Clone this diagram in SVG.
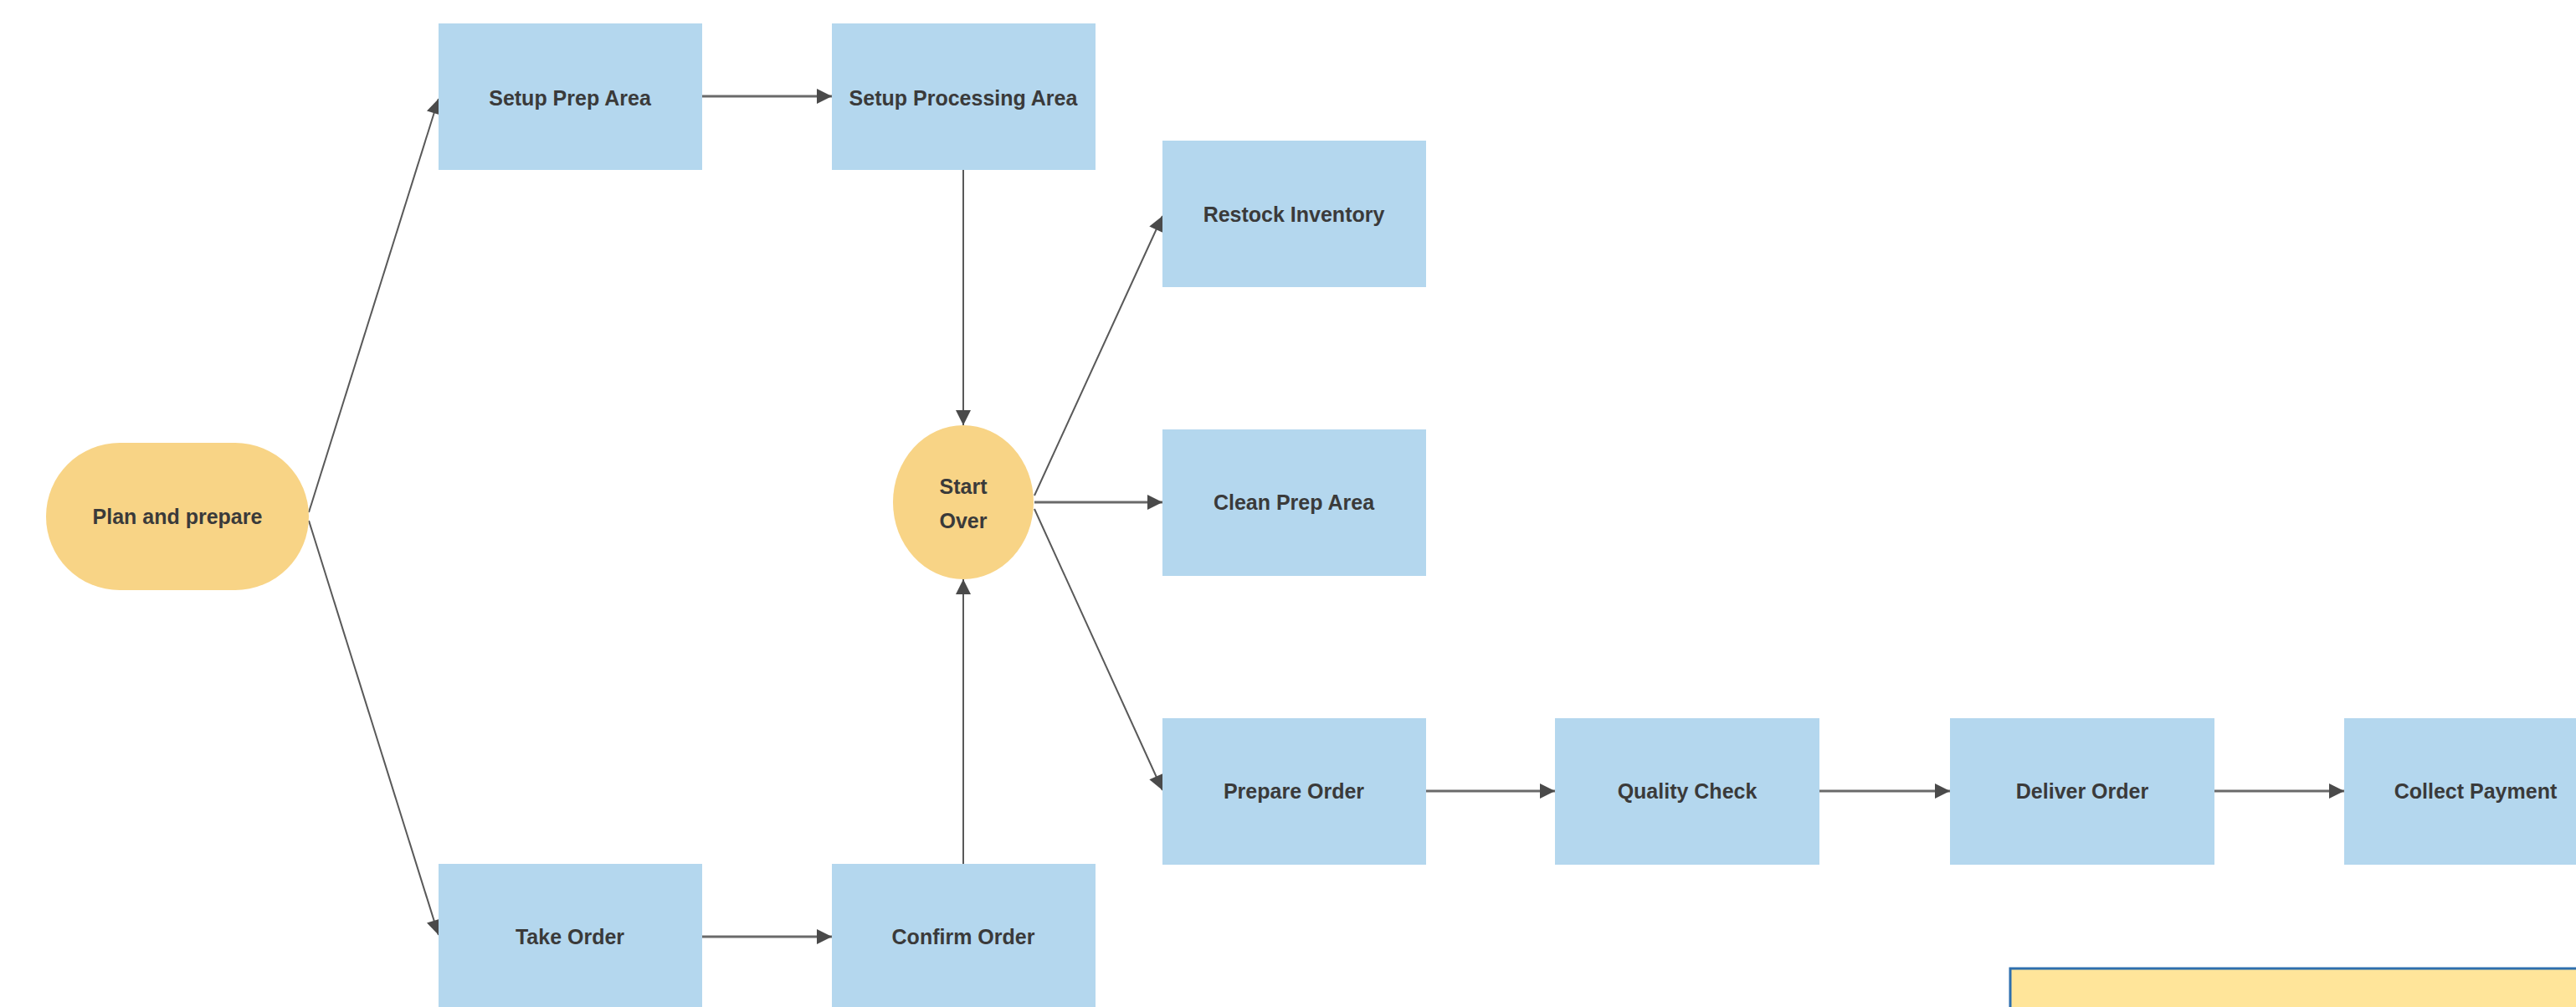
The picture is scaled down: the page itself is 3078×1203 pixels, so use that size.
<svg xmlns="http://www.w3.org/2000/svg" width="3078" height="1203" viewBox="0 0 3078 1203">
<style>
.box{fill:#b4d7ee}
.term{fill:#f8d486}
.lbl{font-family:"Liberation Sans",Arial,sans-serif;font-size:25px;font-weight:bold;fill:#3a3a3a;text-anchor:middle}
.c{stroke:#595959;stroke-width:2;fill:none;marker-end:url(#ah)}
.h{stroke:#6a6a6a;stroke-width:3;fill:none;marker-end:url(#ah)}
</style>
<defs>
<marker id="ah" viewBox="0 0 10 10" refX="10" refY="5" markerWidth="22" markerHeight="18" markerUnits="userSpaceOnUse" orient="auto">
<path d="M0,0 L10,5 L0,10 Z" fill="#4a4a4a"/>
</marker>
</defs>
<rect width="3078" height="1203" fill="#ffffff"/>
<g id="connectors">
<line class="c" x1="369" y1="612" x2="524" y2="118"/>
<line class="c" x1="369" y1="622" x2="524" y2="1117"/>
<line class="h" x1="839" y1="115" x2="994" y2="115"/>
<line class="h" x1="839" y1="1119" x2="994" y2="1119"/>
<line class="c" x1="1151" y1="203" x2="1151" y2="508"/>
<line class="c" x1="1151" y1="1032" x2="1151" y2="692"/>
<line class="c" x1="1236" y1="592" x2="1389" y2="258"/>
<line class="h" x1="1236" y1="600" x2="1389" y2="600"/>
<line class="c" x1="1236" y1="608" x2="1389" y2="944"/>
<line class="h" x1="1704" y1="945" x2="1858" y2="945"/>
<line class="h" x1="2174" y1="945" x2="2330" y2="945"/>
<line class="h" x1="2646" y1="945" x2="2801" y2="945"/>
</g>
<g id="plan"><rect class="term" x="55" y="529" width="314" height="176" rx="88" ry="88"/><text class="lbl" x="212" y="626">Plan and prepare</text></g>
<g id="setupPrep"><rect class="box" x="524" y="28" width="315" height="175"/><text class="lbl" x="681" y="126">Setup Prep Area</text></g>
<g id="setupProcessing"><rect class="box" x="994" y="28" width="315" height="175"/><text class="lbl" x="1151" y="126">Setup Processing Area</text></g>
<g id="takeOrder"><rect class="box" x="524" y="1032" width="315" height="175"/><text class="lbl" x="681" y="1128">Take Order</text></g>
<g id="confirmOrder"><rect class="box" x="994" y="1032" width="315" height="175"/><text class="lbl" x="1151" y="1128">Confirm Order</text></g>
<g id="startOver"><ellipse class="term" cx="1151" cy="600" rx="84" ry="92"/><text class="lbl" x="1151" y="590">Start</text><text class="lbl" x="1151" y="631">Over</text></g>
<g id="restock"><rect class="box" x="1389" y="168" width="315" height="175"/><text class="lbl" x="1546" y="265">Restock Inventory</text></g>
<g id="cleanPrep"><rect class="box" x="1389" y="513" width="315" height="175"/><text class="lbl" x="1546" y="609">Clean Prep Area</text></g>
<g id="prepareOrder"><rect class="box" x="1389" y="858" width="315" height="175"/><text class="lbl" x="1546" y="954">Prepare Order</text></g>
<g id="qualityCheck"><rect class="box" x="1858" y="858" width="316" height="175"/><text class="lbl" x="2016" y="954">Quality Check</text></g>
<g id="deliverOrder"><rect class="box" x="2330" y="858" width="316" height="175"/><text class="lbl" x="2488" y="954">Deliver Order</text></g>
<g id="collectPayment"><rect class="box" x="2801" y="858" width="315" height="175"/><text class="lbl" x="2958" y="954">Collect Payment</text></g>
<g id="note"><rect x="2402" y="1157" width="720" height="100" fill="#ffe59a" stroke="#2e6fae" stroke-width="3"/></g>
</svg>
